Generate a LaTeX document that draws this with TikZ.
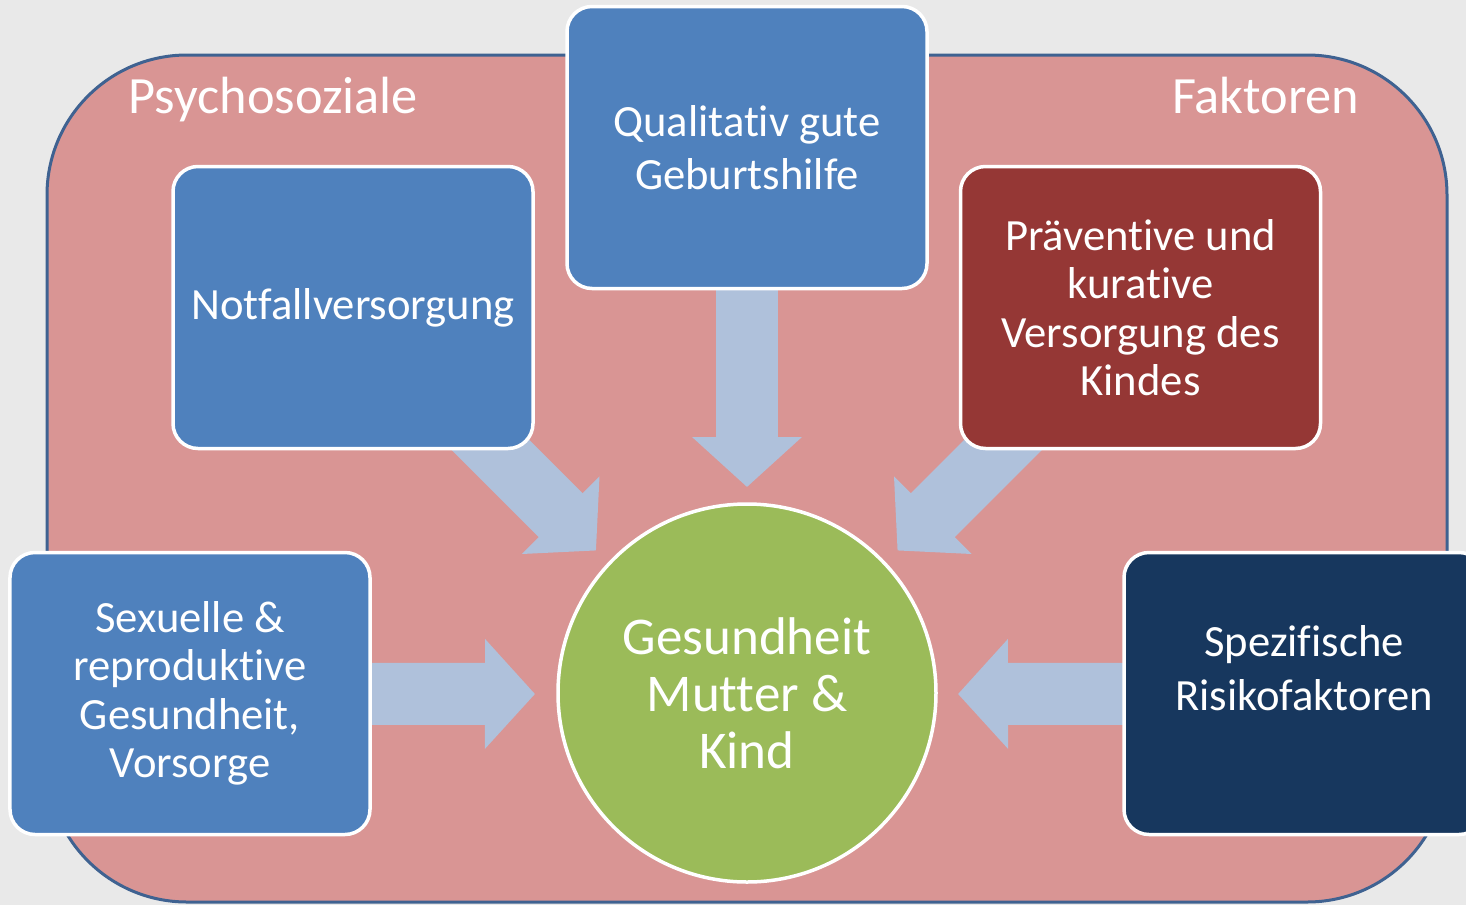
\documentclass[tikz,border=0pt]{standalone}
\usepackage{fontspec}
\setmainfont{Carlito}[Ligatures={NoCommon}]
\usetikzlibrary{arrows.meta}

\pgfdeclarelayer{frame}
\pgfdeclarelayer{flow}
\pgfsetlayers{frame,flow,main}

\definecolor{bgGray}{HTML}{E9E9E9}
\definecolor{framePink}{HTML}{D99594}
\definecolor{frameBlue}{HTML}{3F6291}
\definecolor{boxBlue}{HTML}{4F81BD}
\definecolor{boxRed}{HTML}{953735}
\definecolor{boxNavy}{HTML}{17375E}
\definecolor{circGreen}{HTML}{9BBB59}
\definecolor{arrowBlue}{HTML}{AFC1DB}

\tikzset{
  factor/.style={rectangle, rounded corners=0.25cm, draw=white, line width=0.035cm,
    minimum width=3.6cm, minimum height=2.82cm, inner sep=0pt, text=white, align=center,
    font=\fontsize{12.7}{13.8}\selectfont},
  twoline/.style={font=\fontsize{12.7}{15.2}\selectfont},
  bigarrow/.style={draw=arrowBlue, line width=0.62cm, -{Triangle[length=0.5cm,width=1.07cm]}},
  headline/.style={text=white, inner sep=0pt, font=\fontsize{14.9}{16}\selectfont}
}

\begin{document}
\begin{tikzpicture}
\useasboundingbox (0,0) rectangle (14.66,9.05);

\begin{pgfonlayer}{frame}
\fill[bgGray] (0,0) rectangle (14.66,9.05);
\draw[frameBlue, fill=framePink, line width=0.03cm, rounded corners=1.4cm] (0.47,0.03) rectangle (14.47,8.50);
\end{pgfonlayer}

\node[headline, anchor=base west] (psycho) at (1.28,7.92) {Psychosoziale};
\node[headline, anchor=base east] (faktoren) at (13.60,7.92) {Faktoren};

% factors round the centre
\node[factor, fill=boxBlue] (notfall) at (3.53,5.975) {Notfallversorgung};
\node[factor, twoline, fill=boxBlue] (geburt) at (7.47,7.575) {Qualitativ gute\\Geburtshilfe};
\node[factor, fill=boxRed] (kind) at (11.405,5.975) {Präventive und\\kurative\\Versorgung des\\Kindes};
\node[factor, fill=boxBlue] (sexuell) at (1.90,2.115) {Sexuelle \&\\reproduktive\\Gesundheit,\\Vorsorge};
\node[factor, twoline, fill=boxNavy, text depth=0.51cm] (risiko) at (13.04,2.115) {Spezifische\\Risikofaktoren};

\node[circle, draw=white, line width=0.035cm, fill=circGreen, minimum size=3.78cm, inner sep=0pt,
  text=white, align=center, font=\fontsize{15.1}{16.2}\selectfont] (health) at (7.47,2.12) {Gesundheit\\Mutter \&\\Kind};

% arrow tips
\coordinate (tipN) at (7.47,4.18);
\coordinate (tipNW) at (5.96,3.545);
\coordinate (tipNE) at (8.975,3.545);
\coordinate (tipW) at (5.35,2.11);
\coordinate (tipE) at (9.58,2.11);

\begin{pgfonlayer}{flow}
\draw[bigarrow] (geburt.center) -- (tipN);
\draw[bigarrow] (notfall.center) -- (tipNW);
\draw[bigarrow] (kind.center) -- (tipNE);
\draw[bigarrow] (sexuell.center) -- (tipW);
\draw[bigarrow] (risiko.center) -- (tipE);
\end{pgfonlayer}
\end{tikzpicture}
\end{document}
